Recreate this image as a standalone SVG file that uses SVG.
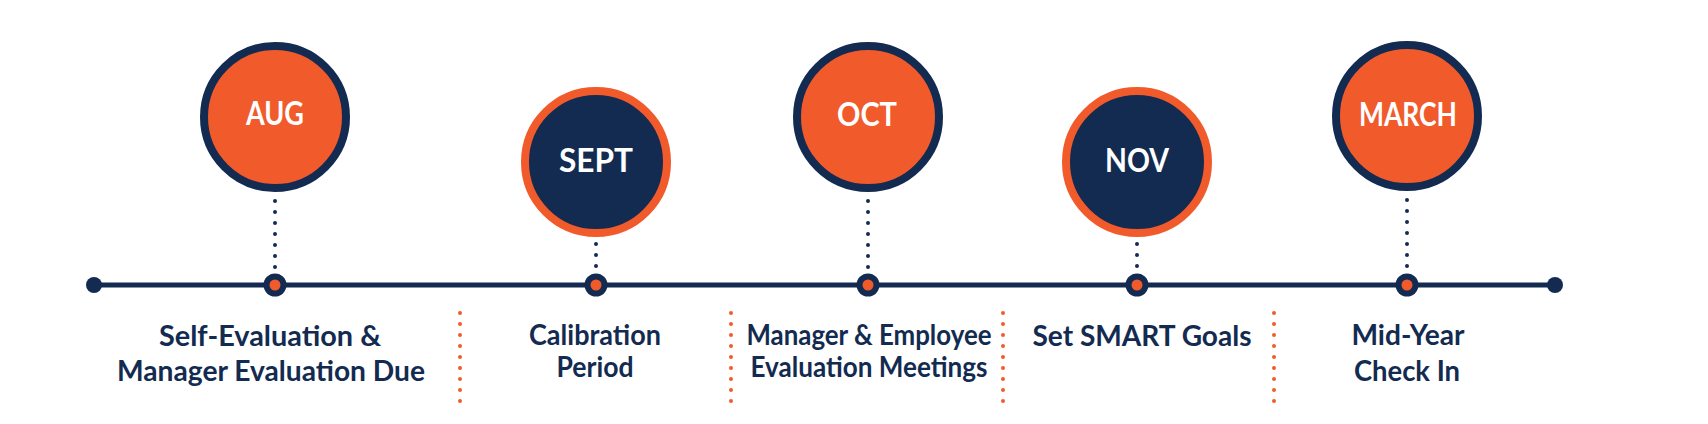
<svg xmlns="http://www.w3.org/2000/svg" width="1708" height="424" viewBox="0 0 1708 424">
<style>
.bg{fill:#ffffff}
.ring-navy{fill:#F15A2B;stroke:#132B50;stroke-width:8}
.ring-orange{fill:#132B50;stroke:#F15A2B;stroke-width:8}
.month{font-family:"Lato","Open Sans","Liberation Sans",sans-serif;font-weight:700;font-size:32px;fill:#ffffff;text-anchor:middle}
.label{font-family:"Lato","Open Sans","Liberation Sans",sans-serif;font-weight:700;font-size:29px;fill:#132B50;text-anchor:middle}
.vdots{stroke:#132B50;stroke-width:4;stroke-linecap:round;stroke-dasharray:0 11;fill:none}
.sep{stroke:#F15A2B;stroke-width:4;stroke-linecap:round;stroke-dasharray:0 11;fill:none}
.axis{stroke:#132B50;stroke-width:5;fill:none}
.end{fill:#132B50}
.mk-out{fill:#132B50}
.mk-in{fill:#F15A2B}
</style>
<rect class="bg" x="0" y="0" width="1708" height="424"/>
<g id="connectors">
  <line class="axis" x1="94" y1="285" x2="1555" y2="285"/>
  <circle class="end" cx="94" cy="285" r="8"/>
  <circle class="end" cx="1555" cy="285" r="8"/>
  <line class="vdots" x1="275" y1="201" x2="275" y2="268"/>
  <line class="vdots" x1="596" y1="244" x2="596" y2="267"/>
  <line class="vdots" x1="868" y1="201" x2="868" y2="268"/>
  <line class="vdots" x1="1137" y1="244" x2="1137" y2="267"/>
  <line class="vdots" x1="1407" y1="200" x2="1407" y2="267"/>
  <line class="sep" x1="460" y1="313" x2="460" y2="402"/>
  <line class="sep" x1="731" y1="313" x2="731" y2="402"/>
  <line class="sep" x1="1003" y1="313" x2="1003" y2="402"/>
  <line class="sep" x1="1274" y1="313" x2="1274" y2="402"/>
</g>
<g id="node-aug">
  <circle class="ring-navy" cx="275" cy="117" r="71"/>
  <text class="month" x="275" y="125" textLength="58" lengthAdjust="spacingAndGlyphs">AUG</text>
  <circle class="mk-out" cx="275" cy="285" r="11.5"/>
  <circle class="mk-in" cx="275" cy="285" r="5.5"/>
  <text class="label" x="270" y="346" textLength="222" lengthAdjust="spacingAndGlyphs">Self-Evaluation &amp;</text>
  <text class="label" x="271" y="381" textLength="308" lengthAdjust="spacingAndGlyphs">Manager Evaluation Due</text>
</g>
<g id="node-sept">
  <circle class="ring-orange" cx="596" cy="162" r="71"/>
  <text class="month" x="596" y="172" textLength="74" lengthAdjust="spacingAndGlyphs">SEPT</text>
  <circle class="mk-out" cx="596" cy="285" r="11.5"/>
  <circle class="mk-in" cx="596" cy="285" r="5.5"/>
  <text class="label" x="595" y="345" textLength="132" lengthAdjust="spacingAndGlyphs">Calibration</text>
  <text class="label" x="595" y="377" textLength="77" lengthAdjust="spacingAndGlyphs">Period</text>
</g>
<g id="node-oct">
  <circle class="ring-navy" cx="868" cy="117" r="71"/>
  <text class="month" x="867" y="126" textLength="60" lengthAdjust="spacingAndGlyphs">OCT</text>
  <circle class="mk-out" cx="868" cy="285" r="11.5"/>
  <circle class="mk-in" cx="868" cy="285" r="5.5"/>
  <text class="label" x="869" y="345" textLength="245" lengthAdjust="spacingAndGlyphs">Manager &amp; Employee</text>
  <text class="label" x="869" y="377" textLength="237" lengthAdjust="spacingAndGlyphs">Evaluation Meetings</text>
</g>
<g id="node-nov">
  <circle class="ring-orange" cx="1137" cy="162" r="71"/>
  <text class="month" x="1137" y="172" textLength="64" lengthAdjust="spacingAndGlyphs">NOV</text>
  <circle class="mk-out" cx="1137" cy="285" r="11.5"/>
  <circle class="mk-in" cx="1137" cy="285" r="5.5"/>
  <text class="label" x="1142" y="346" textLength="219" lengthAdjust="spacingAndGlyphs">Set SMART Goals</text>
</g>
<g id="node-march">
  <circle class="ring-navy" cx="1407" cy="116" r="71"/>
  <text class="month" x="1408" y="126" textLength="98" lengthAdjust="spacingAndGlyphs">MARCH</text>
  <circle class="mk-out" cx="1407" cy="285" r="11.5"/>
  <circle class="mk-in" cx="1407" cy="285" r="5.5"/>
  <text class="label" x="1408" y="345" textLength="113" lengthAdjust="spacingAndGlyphs">Mid-Year</text>
  <text class="label" x="1407" y="381" textLength="106" lengthAdjust="spacingAndGlyphs">Check In</text>
</g>
</svg>
